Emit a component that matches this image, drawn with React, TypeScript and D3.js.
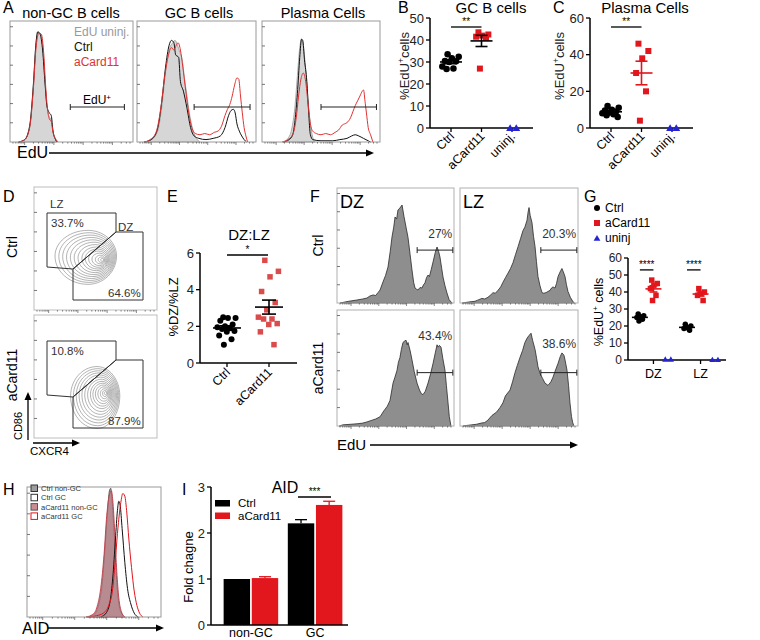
import * as d3 from "d3";

const FONT = "'Liberation Sans', Arial, Helvetica, sans-serif";
const RED = "#e2161d";
const BLUE = "#2323d2";

// ---- A: EdU histograms, points are [x %, y %] of each box ----
const aNonGcUninj = [[7,0],[12,2],[16,14],[19,48],[21,80],[23,91],[25,89],[27,74],[28.5,50],[30,30],[32,21],[33.5,18],[35,8],[37,2],[38,0]];
const aNonGcCtrl = [[7,0],[12,2],[16,13],[19,47],[21,80],[22.5,91],[24.5,89],[26.5,76],[28.5,48],[30,30],[32,24],[33.5,22],[35,9],[37,2],[38,0]];
const aNonGcCard = [[7,0],[12,2],[16,12],[19,44],[21,76],[23.5,90],[25.5,89],[27.5,72],[29,46],[30.5,27],[32,19],[33.5,17],[35,8],[37.5,2],[39,0]];
const aGcUninj = [[6,0],[12,2],[17,8],[21,30],[24,58],[27,76],[30,82],[32,84],[34,80],[36,74],[38,68],[40,52],[42,38],[44,24],[47,10],[50,3],[53,0]];
const aGcCtrl = [[6,0],[12,2],[17,10],[21,35],[24,62],[27,80],[29,84],[31,82],[32.5,72],[35,70],[36.5,50],[39,42],[42,28],[45,12],[48,5],[52,3],[58,2],[64,3],[70,5],[74,12],[77,22],[79,26],[81,27],[82.5,24],[84,15],[86,9],[88,5],[90,2],[92,0]];
const aGcCard = [[6,0],[11,2],[16,8],[20,28],[23,52],[26,70],[29,78],[31,76],[33,80],[34.5,82],[36.5,76],[38.5,62],[41,42],[43.5,24],[46,12],[49,7],[53,6],[57,7],[61,6],[65,8],[68,9],[71,13],[74,22],[76,27],[78,31],[80,38],[82,47],[84,53],[85.5,52],[87,38],[88.5,24],[90,12],[91.5,5],[93,0]];
const aPcUninj = [[18,0],[22,3],[25,10],[28,30],[30,55],[32,78],[33.5,85],[35,80],[37,60],[39,35],[41,15],[43,4],[45,0]];
const aPcCtrl = [[18,0],[23,2],[26,6],[28,18],[30,40],[32,70],[33.5,85],[34.5,84],[36,68],[38,50],[39.5,25],[41,6],[43,2],[50,1],[60,1],[66,2],[72,3],[76,5],[79,6],[82,5],[86,3],[90,1],[92,0]];
const aPcCard = [[17,0],[22,2],[26,6],[29,20],[31,38],[33,52],[35,57],[37,50],[39,32],[41,15],[43,9],[46,7],[50,6],[54,7],[58,6],[62,8],[65,10],[68,14],[70,15],[72,16],[75,20],[77,25],[79,30],[81,34],[83,38],[85,42],[86,43],[87.5,32],[88.5,24],[90,12],[92,6],[94,0]];
const aTitles = ["non-GC B cells", "GC B cells", "Plasma Cells"];
const aLegend = ["EdU uninj.", "Ctrl", "aCard11"];

// ---- B / C: %EdU+ cells ----
const bcCategories = ["Ctrl", "aCard11", "uninj."];
const bCtrl = [33.5, 32.4, 31.7, 30.5, 30.3, 30.0, 28.0, 27.0, 26.8];
const bCard = [43.5, 42.5, 42, 41.5, 41, 27];
const bUninj = [0, 0];
const bTicks = [0, 10, 20, 30, 40, 50];
const cCtrl = [12, 11, 10, 9.5, 9, 8.5, 8, 7.5, 7, 6];
const cCard = [46, 42, 38, 30, 20, 4];
const cUninj = [0, 0];
const cTicks = [0, 20, 40, 60];

// ---- D: gate percentages ----
const dPercents = [["33.7%", "64.6%"], ["10.8%", "87.9%"]];
const rowLabels = ["Ctrl", "aCard11"];

// ---- E: DZ:LZ ratio ----
const eCategories = ["Ctrl", "aCard11"];
const eCtrl = [2.5, 2.45, 2.45, 2.3, 2.1, 2.0, 1.95, 1.9, 1.85, 1.75, 1.7, 1.5, 1.3, 1.0];
const eCard = [5.6, 5.0, 4.7, 3.9, 3.3, 2.9, 2.5, 2.4, 2.4, 2.15, 2.1, 1.7, 1.0];
const eTicks = [0, 2, 4, 6];

// ---- F: DZ / LZ EdU histograms ----
const fDzCtrl = [[2.6,0],[10,1.5],[17,2.6],[22,3.5],[25.6,4.3],[28,6],[30.8,7],[33,6.5],[35,9],[36.8,11.3],[39.3,18.3],[41.5,24],[43.6,31.3],[45.5,45],[47,57.4],[48.5,66],[49.6,74.8],[51,73],[52.1,80.9],[53.8,82.6],[55.6,85.2],[57.3,75],[59,66],[60.7,57],[62.5,42],[64.1,28.7],[65.5,18],[66.7,13],[68,12],[69.2,11.3],[71,13.5],[72.6,13],[74,16],[75.2,17.4],[76.5,22],[77.8,24.3],[79,23],[80.5,29],[82.1,35.7],[84,44],[85.5,48.7],[86.8,45],[88,40],[89.5,30],[90.6,22.6],[92.3,15],[94,8.7],[95.8,3],[97.4,0.9],[98.5,0]];
const fDzCard = [[2,0],[5.1,1],[12,1.5],[18,2],[22,2.5],[25.6,3.5],[30,5],[33,6],[36.8,8],[40,13],[43,17],[45.3,22],[47.9,37],[49.5,42],[51.3,48],[52.5,55],[53.8,59],[55,66],[56.4,72],[57.5,73],[59,74],[60,70],[60.7,72],[62.5,65],[64.1,57],[66,47],[68.4,37],[70.5,31],[72,28],[73.5,27],[75.5,30],[77.8,37],[80,45],[82.1,54],[84,63],[85.5,70],[86.5,68],[87.5,69.5],[88.9,68],[90.5,58],[92.3,48],[93.5,35],[94.9,20],[96,8],[97.4,0]];
const fLzCtrl = [[2,0],[5,0.5],[8.5,1],[12.7,1.5],[15,2.5],[18.6,4],[21,3.5],[23.7,5],[26,7],[28,9],[30,8.5],[32.2,11],[34.5,14],[36.4,18],[38.5,22],[40.7,26],[42.8,30],[44.9,35],[47,42],[49.2,49],[51.3,56],[53.4,63],[55,66],[56.8,72],[57.7,79],[58.5,83],[59.5,76],[61,70],[62.3,58],[63.6,49],[64.8,36],[66.1,23],[67.8,15],[69.5,9],[71,8.5],[72.9,9],[74.5,10],[76.3,11],[77.5,13],[78.8,14],[80.5,13],[81.8,17],[83.1,23],[84.8,27],[86.4,30],[87.6,27],[89,23],[90.2,16],[91.5,10],[93.5,5],[95.8,1],[97,0]];
const fLzCard = [[2.5,0],[6,0.5],[10,1],[14,1.5],[18,2.5],[21,3],[23.6,5],[27,9],[31,12],[34,16],[36.4,20],[38.5,26],[42.4,31],[44.5,38],[46.6,46],[48.5,52],[50.8,59],[53,65],[55,72],[57,76],[58.5,78],[60.2,80],[61.5,74],[63.6,66],[65,58],[66.1,51],[68,45],[70,41],[72,37],[74.6,35],[77,38],[78.8,42],[80.5,47],[83.1,54],[85,60],[86.4,63],[87.3,62],[88.1,61],[89,57],[90.7,48],[92,35],[93.2,20],[94.5,8],[95.5,3],[96.5,0]];
const fPercents = [["27%", "20.3%"], ["43.4%", "38.6%"]];
const fColumns = ["DZ", "LZ"];

// ---- G: %EdU+ in DZ / LZ ----
const gGroups = ["DZ", "LZ"];
const gSeries = ["Ctrl", "aCard11", "uninj"];
const gDzCtrl = [27, 26, 25.5, 25, 24, 23];
const gDzCard = [47, 45, 44, 42, 38, 35];
const gDzUninj = [0.5, 0.5];
const gLzCtrl = [21, 20, 19, 18.5, 17.5];
const gLzCard = [42, 40, 39, 38, 35];
const gLzUninj = [0.3, 0.3];
const gTicks = [0, 10, 20, 30, 40, 50, 60];

// ---- H: AID histograms ----
const hCtrlNon = [[45,0],[50,2],[53,8],[56,25],[58,50],[60,80],[61.5,97],[62.5,99],[63.5,90],[65,65],[66.5,35],[68,15],[70,4],[73,0]];
const hCardNon = [[44,0],[49,2],[52,7],[55,22],[57.5,48],[59.5,78],[61.5,94],[63,97],[64,90],[65.5,65],[67,35],[68.5,15],[70.5,4],[73,0]];
const hCtrlGc = [[55,0],[59,3],[62,12],[64,30],[66,60],[67.5,82],[68.5,89],[69.5,86],[71,68],[73,42],[75,22],[77.5,10],[80,3],[83,0]];
const hCardGc = [[46,0],[52,1],[57,3],[61,9],[64,22],[66,45],[68,70],[70,88],[71.5,95],[73,93],[74.5,80],[76,60],[78,38],[80,20],[82,9],[84,3],[86.5,0]];
const hLegend = ["Ctrl non-GC", "Ctrl GC", "aCard11 non-GC", "aCard11 GC"];

// ---- I: AID fold change ----
const iGroups = ["non-GC", "GC"];
const iSeries = ["Ctrl", "aCard11"];
const iCtrl = [1.0, 2.21];
const iCard = [1.02, 2.61];
const iCtrlErr = [0, 0.08];
const iCardErr = [0.03, 0.08];
const iTicks = [0, 1, 2, 3];

type Pt = number[];

function histPath(pts: Pt[], x0: number, y0: number, w: number, h: number, filled: boolean, curve: any) {
  const sx = d3.scaleLinear().domain([0, 100]).range([x0, x0 + w]);
  const sy = d3.scaleLinear().domain([0, 100]).range([y0 + h, y0]);
  if (filled) {
    return d3.area<Pt>().x((d) => sx(d[0])).y0(y0 + h).y1((d) => sy(d[1])).curve(curve)(pts) || "";
  }
  return d3.line<Pt>().x((d) => sx(d[0])).y((d) => sy(d[1])).curve(curve)(pts) || "";
}

function FlowFrame({ x, y, w, h, stroke = "#a0a0a0", bottom = true, left = true }: any) {
  const lg = d3.scaleLog().domain([4, 40000]).range([x + 3, x + w - 3]);
  const lt = d3.range(1, 7).map((i) => y + h - (i * h) / 6.3);
  return (
    <g>
      <rect x={x} y={y} width={w} height={h} fill="none" stroke={stroke} strokeWidth={1} />
      {left && lt.map((yy, i) => <line key={i} x1={x} x2={x + 3} y1={yy} y2={yy} stroke="#555" strokeWidth={0.8} />)}
      {bottom &&
        lg.ticks().map((t, i) => {
          const major = Math.abs(Math.log10(t) - Math.round(Math.log10(t))) < 1e-6;
          return <line key={i} x1={lg(t)} x2={lg(t)} y1={y + h} y2={y + h + (major ? 3 : 1.6)} stroke="#555" strokeWidth={0.7} />;
        })}
    </g>
  );
}

function Gate({ x1, x2, y }: any) {
  return (
    <g stroke="#222" strokeWidth={1}>
      <line x1={x1} x2={x2} y1={y} y2={y} />
      <line x1={x1} x2={x1} y1={y - 3} y2={y + 3} />
      <line x1={x2} x2={x2} y1={y - 3} y2={y + 3} />
    </g>
  );
}

function Arrow({ x1, x2, y, width = 1.3 }: any) {
  return (
    <g>
      <line x1={x1} x2={x2 - 6} y1={y} y2={y} stroke="#000" strokeWidth={width} />
      <path d={`M${x2},${y}L${x2 - 8},${y - 3.5}L${x2 - 8},${y + 3.5}Z`} fill="#000" />
    </g>
  );
}

function Marker({ shape, x, y, s, fill }: any) {
  if (shape === "circle") return <circle cx={x} cy={y} r={s / 2} fill={fill} />;
  if (shape === "square") return <rect x={x - s / 2} y={y - s / 2} width={s} height={s} fill={fill} />;
  return <path d={d3.symbol(d3.symbolTriangle, s * s * 0.55)() || ""} transform={`translate(${x},${y + 0.8})`} fill={fill} />;
}

const jitter = (i: number, n: number) => (n < 2 ? 0 : ((i * 0.618034 + 0.31) % 1) - 0.5);

function Column({ vals, cx, y, spread, shape, size, fill, meanW, capW, meanColor = "#000", showMean = true }: any) {
  const n = vals.length;
  const m = d3.mean(vals) as number;
  const sem = n > 1 ? (d3.deviation(vals) as number) / Math.sqrt(n) : 0;
  return (
    <g>
      {vals.map((v: number, i: number) => (
        <Marker key={i} shape={shape} x={cx + jitter(i, n) * spread} y={y(v)} s={size} fill={fill} />
      ))}
      {showMean && (
        <g stroke={meanColor} strokeWidth={1.6}>
          <line x1={cx - meanW} x2={cx + meanW} y1={y(m)} y2={y(m)} />
          <line x1={cx} x2={cx} y1={y(m - sem)} y2={y(m + sem)} />
          <line x1={cx - capW} x2={cx + capW} y1={y(m - sem)} y2={y(m - sem)} />
          <line x1={cx - capW} x2={cx + capW} y1={y(m + sem)} y2={y(m + sem)} />
        </g>
      )}
    </g>
  );
}

function YAxis({ x, y, ticks, fs = 13, tickLen = 4 }: any) {
  const [a, b] = y.range();
  return (
    <g>
      <line x1={x} x2={x} y1={a} y2={b} stroke="#000" strokeWidth={1.5} />
      {ticks.map((t: number) => (
        <g key={t}>
          <line x1={x - tickLen} x2={x} y1={y(t)} y2={y(t)} stroke="#000" strokeWidth={1.3} />
          <text x={x - tickLen - 2} y={y(t) + fs * 0.36} fontSize={fs} textAnchor="end" fill="#222">{t}</text>
        </g>
      ))}
    </g>
  );
}

function EduLabel({ x, y, fs = 13 }: any) {
  return (
    <text transform={`translate(${x},${y}) rotate(-90)`} fontSize={fs} textAnchor="middle" fill="#222">
      %EdU<tspan fontSize={fs * 0.65} dy={-fs * 0.4}>+</tspan>
      <tspan dy={fs * 0.4}>cells</tspan>
    </text>
  );
}

function Sig({ x1, x2, y, stars }: any) {
  return (
    <g>
      <line x1={x1} x2={x2} y1={y} y2={y} stroke="#000" strokeWidth={1.3} />
      <text x={(x1 + x2) / 2} y={y - 2} fontSize={10} textAnchor="middle">{stars}</text>
    </g>
  );
}

function PanelA() {
  const boxes = [
    { x: 10, w: 123, gray: aNonGcUninj, ctrl: aNonGcCtrl, card: aNonGcCard, gate: [49, 93], tx: 71 },
    { x: 137, w: 119, gray: aGcUninj, ctrl: aGcCtrl, card: aGcCard, gate: [48, 95], tx: 199 },
    { x: 262, w: 118, gray: aPcUninj, ctrl: aPcCtrl, card: aPcCard, gate: [50, 97], tx: 323 },
  ];
  const y0 = 21;
  const h = 121;
  const gy = 107;
  return (
    <g>
      <text x={3} y={13} fontSize={16}>A</text>
      {boxes.map((b, i) => {
        const sx = d3.scaleLinear().domain([0, 100]).range([b.x, b.x + b.w]);
        return (
          <g key={i}>
            <text x={b.tx} y={18} fontSize={14.5} textAnchor="middle">{aTitles[i]}</text>
            <path d={histPath(b.gray, b.x, y0, b.w, h, true, d3.curveMonotoneX)} fill="#d6d6d6" stroke="#9c9c9c" strokeWidth={0.8} />
            <path d={histPath(b.ctrl, b.x, y0, b.w, h, false, d3.curveMonotoneX)} fill="none" stroke="#111" strokeWidth={1} />
            <path d={histPath(b.card, b.x, y0, b.w, h, false, d3.curveMonotoneX)} fill="none" stroke="#e03333" strokeWidth={1} />
            <FlowFrame x={b.x} y={y0} w={b.w} h={h} stroke="#9a9a9a" />
            <Gate x1={sx(b.gate[0])} x2={sx(b.gate[1])} y={gy} />
          </g>
        );
      })}
      {aLegend.map((t, i) => (
        <text key={t} x={74} y={36 + i * 15} fontSize={12} fill={["#9a9a9a", "#111", "#e03333"][i]}>{t}</text>
      ))}
      <text x={97} y={104} fontSize={12} textAnchor="middle">
        EdU<tspan fontSize={8} dy={-4}>+</tspan>
      </text>
      <text x={17} y={158} fontSize={16}>EdU</text>
      <Arrow x1={49} x2={374} y={153} />
    </g>
  );
}

function DotPanel({ label, lx, title, tx, axisX, xEnd, cats, yMax, ticks, ctrl, card, uninj, cardMean }: any) {
  const y = d3.scaleLinear().domain([0, yMax]).range([128, 18]);
  const x = d3.scalePoint().domain(cats).range([axisX + 21, axisX + 82]);
  return (
    <g>
      <text x={lx} y={13} fontSize={16}>{label}</text>
      <text x={tx} y={13} fontSize={15} textAnchor="middle">{title}</text>
      <EduLabel x={lx + 11} y={66} />
      <YAxis x={axisX} y={y} ticks={ticks} fs={13} />
      <line x1={axisX} x2={xEnd} y1={128} y2={128} stroke="#000" strokeWidth={1.5} />
      {cats.map((c: string) => (
        <g key={c}>
          <line x1={x(c)} x2={x(c)} y1={128} y2={132} stroke="#000" strokeWidth={1.3} />
          <text transform={`translate(${(x(c) as number) + 4},${137}) rotate(-45)`} fontSize={12.5} textAnchor="end">{c}</text>
        </g>
      ))}
      <Column vals={ctrl} cx={x(cats[0])} y={y} spread={18} shape="circle" size={6.5} fill="#000" meanW={11} capW={6} />
      <Column vals={card} cx={x(cats[1])} y={y} spread={16} shape="square" size={6} fill={RED} meanW={11} capW={6} meanColor={cardMean} />
      <Column vals={uninj} cx={x(cats[2])} y={y} spread={10} shape="triangle" size={7} fill={BLUE} showMean={false} meanW={0} capW={0} />
      <Sig x1={x(cats[0])} x2={x(cats[1])} y={27} stars="**" />
    </g>
  );
}

function ringPath(c0: number[], c1: number[], rx: number, ry: number, f: number) {
  const cx = c0[0] + (c1[0] - c0[0]) * (1 - f);
  const cy = c0[1] + (c1[1] - c0[1]) * (1 - f);
  const pts = d3.range(0, Math.PI * 2, Math.PI / 14).map((a) => {
    const k = Math.cos(a) < 0 ? 1.1 : 0.95;
    return [cx + rx * f * Math.cos(a) * k, cy + ry * f * Math.sin(a) * (Math.sin(a) < 0 ? 0.95 : 1.05)];
  });
  return d3.line().curve(d3.curveCardinalClosed)(pts as [number, number][]) || "";
}

const ringLevels = [1, 0.92, 0.84, 0.76, 0.68, 0.6, 0.52, 0.44, 0.37, 0.3, 0.23, 0.16, 0.1, 0.05];

function PanelD() {
  const x0 = 34;
  const w = 123;
  const h = 123;
  const tops = [187, 315];
  const blobs = [
    { c0: [88, 256], c1: [103, 260], rx: 30, ry: 27 },
    { c0: [97, 396], c1: [106, 393], rx: 24, ry: 31 },
  ];
  const lz = [[13, 26], [82, 26], [82, 45], [39, 82], [13, 80]];
  const dz = [[82, 45], [109, 45], [109, 113], [39, 113], [39, 82]];
  return (
    <g>
      <text x={3} y={202} fontSize={16}>D</text>
      {tops.map((t, r) => {
        const poly = (p: number[][]) => p.map((q) => `${x0 + q[0]},${t + q[1]}`).join(" ");
        const b = blobs[r];
        return (
          <g key={r}>
            <FlowFrame x={x0} y={t} w={w} h={h} stroke="#bdbdbd" bottom={r === 0} />
            {ringLevels.map((f, i) => (
              <path key={i} d={ringPath(b.c0, b.c1, b.rx, b.ry, f)} fill="none" stroke="#808080" strokeWidth={0.6} />
            ))}
            <polygon points={poly(lz)} fill="none" stroke="#333" strokeWidth={1} />
            <polygon points={poly(dz)} fill="none" stroke="#333" strokeWidth={1} />
            <text x={51} y={t + 40} fontSize={11.5} fill="#333">{dPercents[r][0]}</text>
            <text x={108} y={t + 110} fontSize={11.5} fill="#333">{dPercents[r][1]}</text>
            <text transform={`translate(${17},${t + 60}) rotate(-90)`} fontSize={14} textAnchor="middle">{rowLabels[r]}</text>
          </g>
        );
      })}
      <text x={50} y={208} fontSize={11.5} fill="#333">LZ</text>
      <text x={118} y={231} fontSize={11.5} fill="#333">DZ</text>
      <g>
        <line x1={28} x2={28} y1={440} y2={398} stroke="#000" strokeWidth={1.3} />
        <path d="M28,392L24.5,400L31.5,400Z" fill="#000" />
        <text transform="translate(22,426) rotate(-90)" fontSize={11} textAnchor="middle">CD86</text>
        <Arrow x1={33} x2={80} y={443} width={1.3} />
        <text x={30} y={455} fontSize={11.5}>CXCR4</text>
      </g>
    </g>
  );
}

function PanelE() {
  const y = d3.scaleLinear().domain([0, 6]).range([363, 253]);
  const x = d3.scalePoint().domain(eCategories).range([227, 269]);
  return (
    <g>
      <text x={167} y={202} fontSize={16}>E</text>
      <text x={249} y={240} fontSize={15} textAnchor="middle">DZ:LZ</text>
      <text transform="translate(178,307) rotate(-90)" fontSize={13} textAnchor="middle">%DZ/%LZ</text>
      <YAxis x={200} y={y} ticks={eTicks} fs={13} />
      <line x1={200} x2={297} y1={363} y2={363} stroke="#000" strokeWidth={1.5} />
      {eCategories.map((c) => (
        <g key={c}>
          <line x1={x(c)} x2={x(c)} y1={363} y2={367} stroke="#000" strokeWidth={1.3} />
          <text transform={`translate(${(x(c) as number) + 4},${373}) rotate(-45)`} fontSize={12.5} textAnchor="end">{c}</text>
        </g>
      ))}
      <Column vals={eCtrl} cx={x("Ctrl")} y={y} spread={20} shape="circle" size={6} fill="#000" meanW={14} capW={7} />
      <Column vals={eCard} cx={x("aCard11")} y={y} spread={22} shape="square" size={5.5} fill="#dc4b4b" meanW={14} capW={7} />
      <Sig x1={227} x2={268} y={255} stars="*" />
    </g>
  );
}

function PanelF() {
  const cols = [{ x: 337, w: 117 }, { x: 460, w: 118 }];
  const rows = [{ y: 188, h: 115 }, { y: 310, h: 116 }];
  const data = [[fDzCtrl, fLzCtrl], [fDzCard, fLzCard]];
  const textY = [[238, 238], [340, 348]];
  return (
    <g>
      <text x={310} y={202} fontSize={16}>F</text>
      {rows.map((r, ri) => (
        <g key={ri}>
          <text transform={`translate(${323},${r.y + r.h / 2}) rotate(-90)`} fontSize={14} textAnchor="middle">{rowLabels[ri]}</text>
          {cols.map((c, ci) => {
            const sx = d3.scaleLinear().domain([0, 100]).range([c.x, c.x + c.w]);
            const sy = d3.scaleLinear().domain([0, 100]).range([r.y + r.h, r.y]);
            return (
              <g key={ci}>
                <path d={histPath(data[ri][ci], c.x, r.y, c.w, r.h, true, d3.curveLinear)} fill="#8e8e8e" stroke="#2a2a2a" strokeWidth={0.8} />
                <FlowFrame x={c.x} y={r.y} w={c.w} h={r.h} stroke="#b0b0b0" left={ci === 0} />
                <Gate x1={sx(68.5)} x2={sx(99)} y={sy(46)} />
                <text x={sx(98.5)} y={textY[ri][ci]} fontSize={12} textAnchor="end" fill="#333">{fPercents[ri][ci]}</text>
              </g>
            );
          })}
        </g>
      ))}
      {fColumns.map((t, i) => (
        <text key={t} x={cols[i].x + 3} y={208} fontSize={18}>{t}</text>
      ))}
      <text x={337} y={450} fontSize={15}>EdU</text>
      <Arrow x1={370} x2={578} y={445} />
    </g>
  );
}

function PanelG() {
  const y = d3.scaleLinear().domain([0, 60]).range([360, 258]);
  const gx = d3.scaleBand().domain(gGroups).range([628, 726]).padding(0.08);
  const sx = d3.scalePoint().domain(gSeries).range([0, gx.bandwidth()]).padding(0.6);
  const vals: Record<string, number[][]> = { DZ: [gDzCtrl, gDzCard, gDzUninj], LZ: [gLzCtrl, gLzCard, gLzUninj] };
  const shapes = ["circle", "square", "triangle"];
  const fills = ["#000", RED, BLUE];
  return (
    <g>
      <text x={584} y={202} fontSize={16}>G</text>
      {gSeries.map((s, i) => (
        <g key={s}>
          <Marker shape={shapes[i]} x={597} y={208 + i * 15} s={6} fill={fills[i]} />
          <text x={605} y={212 + i * 15} fontSize={12}>{s}</text>
        </g>
      ))}
      <text transform="translate(603,312) rotate(-90)" fontSize={12.5} textAnchor="middle">
        %EdU<tspan fontSize={8} dy={-5}>+</tspan>
        <tspan dy={5}> cells</tspan>
      </text>
      <YAxis x={628} y={y} ticks={gTicks} fs={12} />
      <line x1={628} x2={726} y1={360} y2={360} stroke="#000" strokeWidth={1.5} />
      {gGroups.map((g) => {
        const base = gx(g) as number;
        return (
          <g key={g}>
            <line x1={base + gx.bandwidth() / 2} x2={base + gx.bandwidth() / 2} y1={360} y2={364} stroke="#000" strokeWidth={1.3} />
            <text x={base + gx.bandwidth() / 2} y={378} fontSize={12.5} textAnchor="middle">{g}</text>
            {gSeries.map((s, i) => (
              <Column key={s} vals={vals[g][i]} cx={base + (sx(s) as number)} y={y} spread={9} shape={shapes[i]} size={5.5}
                fill={fills[i]} meanW={8} capW={4} meanColor={fills[i]} showMean={i < 2} />
            ))}
            <Sig x1={base + (sx("Ctrl") as number)} x2={base + (sx("aCard11") as number)} y={y(53)} stars="****" />
          </g>
        );
      })}
    </g>
  );
}

function PanelH() {
  const x0 = 27;
  const y0 = 487;
  const w = 134;
  const h = 130;
  const leg = [
    { fill: "#9d9d9d", stroke: "#333" },
    { fill: "#fff", stroke: "#333" },
    { fill: "#c98d94", stroke: "#555" },
    { fill: "#fff", stroke: RED },
  ];
  return (
    <g>
      <text x={3} y={495} fontSize={16}>H</text>
      <path d={histPath(hCtrlNon, x0, y0, w, h, true, d3.curveMonotoneX)} fill="#a5a5a5" stroke="#444" strokeWidth={0.8} />
      <path d={histPath(hCardNon, x0, y0, w, h, true, d3.curveMonotoneX)} fill="#c47a83" fillOpacity={0.6} stroke="#c0404a" strokeWidth={0.9} />
      <path d={histPath(hCtrlGc, x0, y0, w, h, false, d3.curveMonotoneX)} fill="none" stroke="#111" strokeWidth={1} />
      <path d={histPath(hCardGc, x0, y0, w, h, false, d3.curveMonotoneX)} fill="none" stroke={RED} strokeWidth={1} />
      <FlowFrame x={x0} y={y0} w={w} h={h} stroke="#999" />
      {hLegend.map((t, i) => (
        <g key={t}>
          <rect x={31} y={485 + i * 9.3} width={6.5} height={6.5} fill={leg[i].fill} stroke={leg[i].stroke} strokeWidth={1} />
          <text x={41} y={491 + i * 9.3} fontSize={7.5} fill="#333">{t}</text>
        </g>
      ))}
      <text x={22} y={634} fontSize={16.5}>AID</text>
      <Arrow x1={48} x2={164} y={628} />
    </g>
  );
}

function PanelI() {
  const y = d3.scaleLinear().domain([0, 3]).range([625, 487]);
  const x0 = d3.scaleBand().domain(iGroups).range([214, 352]).paddingInner(0.15).paddingOuter(0.15);
  const x1 = d3.scaleBand().domain(iSeries).range([0, x0.bandwidth()]).paddingInner(0.06);
  const series = [
    { key: "Ctrl", vals: iCtrl, err: iCtrlErr, color: "#000" },
    { key: "aCard11", vals: iCard, err: iCardErr, color: RED },
  ];
  return (
    <g>
      <text x={182} y={495} fontSize={16}>I</text>
      <text x={285} y={493} fontSize={16} textAnchor="middle">AID</text>
      <text transform="translate(193,567) rotate(-90)" fontSize={13} textAnchor="middle">Fold chagne</text>
      {iGroups.map((g, gi) => (
        <g key={g}>
          {series.map((s) => {
            const bx = (x0(g) as number) + (x1(s.key) as number);
            const cx = bx + x1.bandwidth() / 2;
            const top = y(s.vals[gi]);
            const et = y(s.vals[gi] + s.err[gi]);
            return (
              <g key={s.key}>
                <rect x={bx} y={top} width={x1.bandwidth()} height={625 - top} fill={s.color} />
                {s.err[gi] > 0 && (
                  <g stroke={s.color} strokeWidth={1.3}>
                    <line x1={cx} x2={cx} y1={top} y2={et} />
                    <line x1={cx - 6} x2={cx + 6} y1={et} y2={et} />
                  </g>
                )}
              </g>
            );
          })}
          <text x={(x0(g) as number) + x0.bandwidth() / 2} y={637} fontSize={12.5} textAnchor="middle">{g}</text>
        </g>
      ))}
      <YAxis x={211} y={y} ticks={iTicks} fs={13} />
      <line x1={211} x2={348} y1={625} y2={625} stroke="#000" strokeWidth={1.5} />
      {series.map((s, i) => (
        <g key={s.key}>
          <rect x={215} y={500 + i * 12.5} width={15} height={6.5} fill={s.color} />
          <text x={238} y={507 + i * 12.5} fontSize={11.5}>{s.key}</text>
        </g>
      ))}
      <Sig x1={298} x2={331} y={497} stars="***" />
    </g>
  );
}

export default function App() {
  return (
    <svg width={760} height={640} style={{ position: "absolute", left: 0, top: 0, background: "#fff" }} fontFamily={FONT}>
      <rect width={760} height={640} fill="#fff" />
      <PanelA />
      <DotPanel label="B" lx={398} title="GC B cells" tx={491} axisX={430} xEnd={533} cats={bcCategories} yMax={50}
        ticks={bTicks} ctrl={bCtrl} card={bCard} uninj={bUninj} cardMean="#000" />
      <DotPanel label="C" lx={553} title="Plasma Cells" tx={645} axisX={590} xEnd={693} cats={bcCategories} yMax={60}
        ticks={cTicks} ctrl={cCtrl} card={cCard} uninj={cUninj} cardMean={RED} />
      <PanelD />
      <PanelE />
      <PanelF />
      <PanelG />
      <PanelH />
      <PanelI />
    </svg>
  );
}
